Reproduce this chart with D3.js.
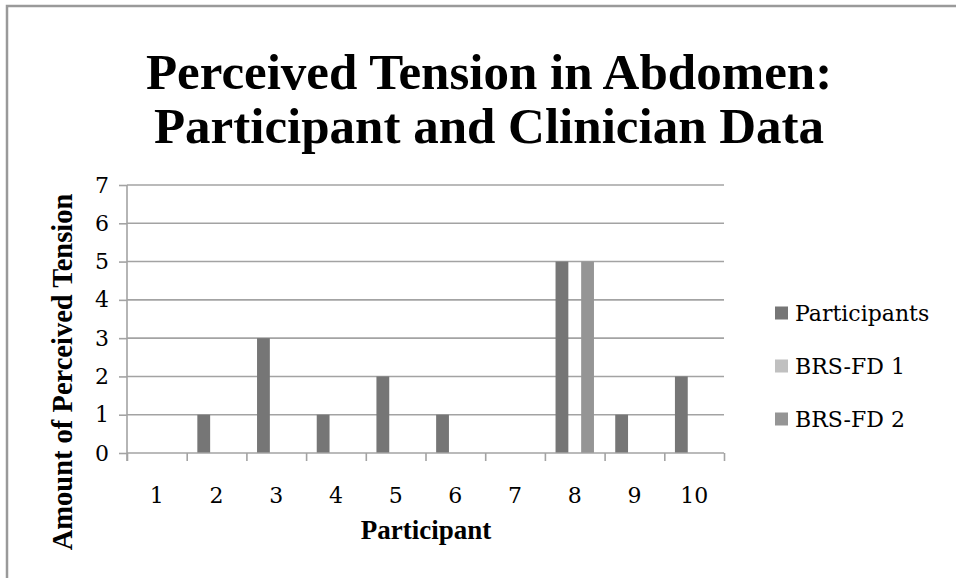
<!DOCTYPE html>
<html>
<head>
<meta charset="utf-8">
<script src="https://cdn.jsdelivr.net/npm/d3@7"></script>
<style>
  html, body { margin: 0; padding: 0; background: #fff; }
  svg { display: block; }
</style>
</head>
<body>
<svg id="chart" width="956" height="578"></svg>
<script>
const categories = ["1","2","3","4","5","6","7","8","9","10"];
const seriesNames = ["Participants","BRS-FD 1","BRS-FD 2"];
const participants = [0,1,3,1,2,1,0,5,1,2];
const brsfd1 = [0,0,0,0,0,0,0,0,0,0];
const brsfd2 = [0,0,0,0,0,0,0,5,0,0];
const yTicks = [0,1,2,3,4,5,6,7];
const titleLines = ["Perceived Tension in Abdomen:", "Participant and Clinician Data"];
const xTitle = "Participant";
const yTitle = "Amount of Perceived Tension";

const seriesValues = [participants, brsfd1, brsfd2];
const colors = ["#767676", "#c0c0c0", "#959595"];
const gridColor = "#a3a3a3";
const serifR = "'DejaVu Serif', serif";
const serifB = "'Liberation Serif', 'Times New Roman', serif";

const svg = d3.select("#chart");
const pLeft = 127, pRight = 724, pTop = 185, pBottom = 453;

// outer border
svg.append("rect").attr("x", 7).attr("y", 6).attr("width", 1000).attr("height", 1000)
  .attr("fill", "none").attr("stroke", "#9a9a9a").attr("stroke-width", 2.5);

// title
svg.append("text").attr("x", 489).attr("text-anchor", "middle")
  .attr("font-family", serifB).attr("font-weight", "bold").attr("font-size", 51).attr("fill", "#000")
  .selectAll("tspan").data(titleLines).join("tspan")
  .attr("x", 489).attr("y", (d, i) => 89 + i * 54).text(d => d);

const x = d3.scaleBand().domain(categories).range([pLeft, pRight]).paddingInner(0).paddingOuter(0);
const xs = d3.scaleBand().domain(seriesNames).range([0, x.bandwidth()]).paddingInner(0).paddingOuter(0.83);
const y = d3.scaleLinear().domain([0, 7]).range([pBottom, pTop]);

// gridlines
svg.append("g").selectAll("line").data(yTicks.filter(t => t > 0)).join("line")
  .attr("x1", pLeft).attr("x2", pRight).attr("y1", d => y(d)).attr("y2", d => y(d))
  .attr("stroke", gridColor).attr("stroke-width", 1.6);

// bars
const barData = [];
seriesNames.forEach((s, si) => categories.forEach((c, ci) => {
  barData.push({ s, c, v: seriesValues[si][ci], color: colors[si] });
}));
svg.append("g").selectAll("rect").data(barData.filter(d => d.v > 0)).join("rect")
  .attr("x", d => x(d.c) + xs(d.s)).attr("width", xs.bandwidth())
  .attr("y", d => y(d.v)).attr("height", d => y(0) - y(d.v))
  .attr("fill", d => d.color);

// y axis
const yAxis = svg.append("g").attr("transform", `translate(${pLeft},0)`)
  .call(d3.axisLeft(y).tickValues(yTicks).tickSize(8).tickPadding(10).tickFormat(d3.format("d")));
yAxis.select(".domain").attr("stroke", gridColor).attr("stroke-width", 1.6)
  .attr("d", `M0,${pTop}V${pBottom + 8}`);
yAxis.selectAll(".tick line").attr("stroke", gridColor).attr("stroke-width", 1.6);
yAxis.selectAll(".tick text").attr("font-family", serifR).attr("font-size", 22).attr("fill", "#000");

// x axis baseline + boundary ticks
const bounds = d3.scaleLinear().domain([0, categories.length]).range([pLeft, pRight]);
const xAxisTicks = svg.append("g").attr("transform", `translate(0,${pBottom})`)
  .call(d3.axisBottom(bounds).ticks(categories.length).tickSize(8).tickFormat(""));
xAxisTicks.select(".domain").attr("stroke", gridColor).attr("stroke-width", 1.6).attr("d", `M${pLeft},0H${pRight}`);
xAxisTicks.selectAll(".tick line").attr("stroke", gridColor).attr("stroke-width", 1.6);

const xAxis = svg.append("g").attr("transform", `translate(0,${pBottom})`)
  .call(d3.axisBottom(x).tickSize(0).tickPadding(34));
xAxis.select(".domain").remove();
xAxis.selectAll(".tick text").attr("font-family", serifR).attr("font-size", 22).attr("fill", "#000");

// axis titles
svg.append("text").attr("x", 426).attr("y", 539).attr("text-anchor", "middle")
  .attr("font-family", serifB).attr("font-weight", "bold").attr("font-size", 27).text(xTitle);
svg.append("text").attr("transform", "translate(72,372) rotate(-90)").attr("text-anchor", "middle")
  .attr("font-family", serifB).attr("font-weight", "bold").attr("font-size", 28.5).text(yTitle);

// legend
const lg = svg.append("g").selectAll("g").data(seriesNames).join("g")
  .attr("transform", (d, i) => `translate(775,${313 + i * 53})`);
lg.append("rect").attr("x", 0).attr("y", -6.5).attr("width", 13).attr("height", 13)
  .attr("fill", (d, i) => colors[i]);
lg.append("text").attr("x", 20).attr("y", 0).attr("dy", "0.36em")
  .attr("font-family", serifR).attr("font-size", 22).attr("fill", "#000").text(d => d);
</script>
</body>
</html>
